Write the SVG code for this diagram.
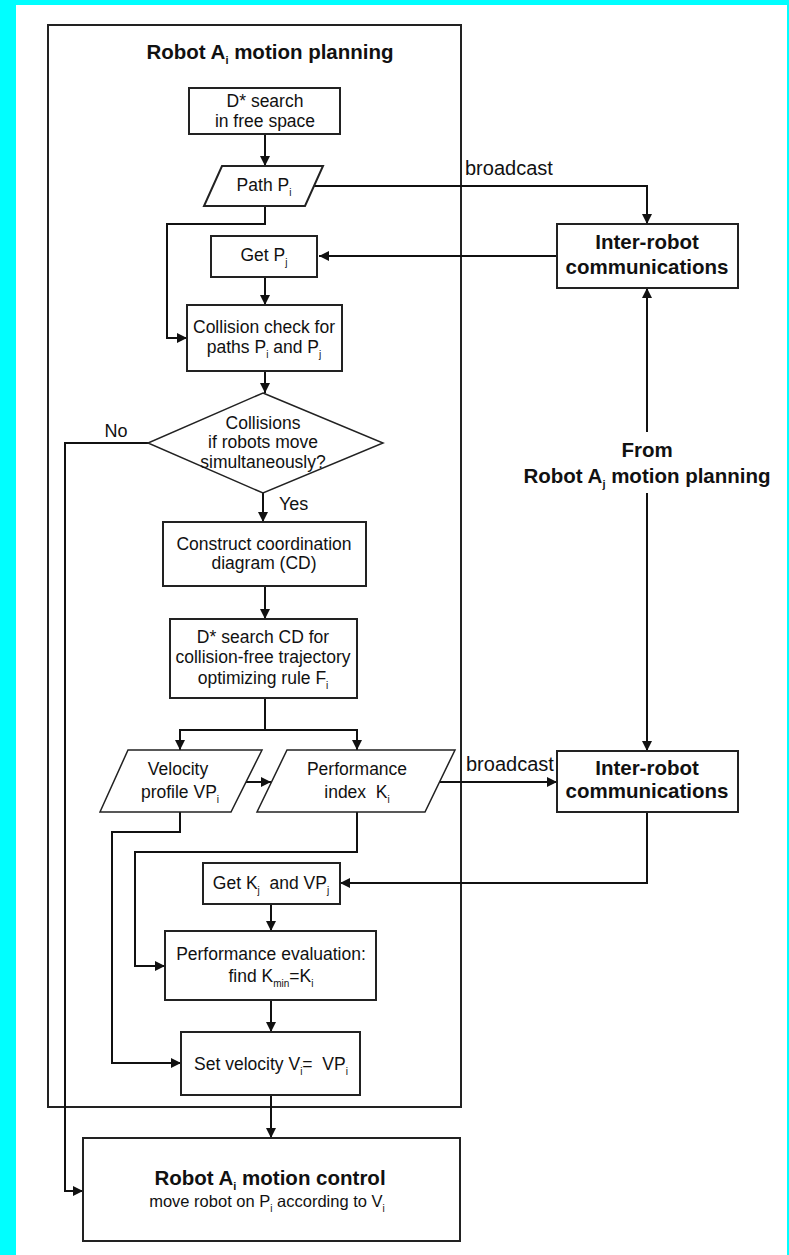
<svg xmlns="http://www.w3.org/2000/svg" width="789" height="1255" viewBox="0 0 789 1255">
<defs>
<marker id="arr" markerUnits="userSpaceOnUse" markerWidth="10" markerHeight="10" refX="10" refY="5" orient="auto">
<path d="M0,0 L10,5 L0,10 z" fill="#111"/>
</marker>
<style>
.box{fill:#fff;stroke:#222;stroke-width:2}
.frame{fill:none;stroke:#222;stroke-width:2}
.con{fill:none;stroke:#111;stroke-width:2}
.ca{fill:none;stroke:#111;stroke-width:2;marker-end:url(#arr)}
text{font-family:"Liberation Sans",Arial,sans-serif;fill:#111;white-space:pre}
.t{font-size:17.5px;text-anchor:middle}
.b{font-size:20.5px;font-weight:bold;text-anchor:middle}
.l{font-size:20px}
.s{font-size:10px}
.sb{font-size:11px}
</style>
</defs>
<rect x="0" y="0" width="789" height="1255" fill="#00ffff"/>
<rect x="16" y="5" width="771" height="1250" fill="#fff"/>

<g id="frame-planning">
<rect class="frame" x="48" y="25" width="413" height="1082"/>
<text class="b" x="270" y="59">Robot A<tspan class="sb" dy="5">i</tspan><tspan dy="-5"> motion planning</tspan></text>
</g>

<g id="connectors">
<path class="ca" d="M265,134 V166"/>
<path class="ca" d="M314,186 H647 V224"/>
<path class="ca" d="M557,256 H319"/>
<path class="ca" d="M265,206 V224 H167 V338 H187"/>
<path class="ca" d="M265,277 V305"/>
<path class="ca" d="M265,371 V393"/>
<path class="ca" d="M148,443 H65 V1191 H83"/>
<path class="ca" d="M263,493 V522"/>
<path class="ca" d="M265,586 V619"/>
<path class="ca" d="M265,698 V730 H180 V750"/>
<path class="ca" d="M265,730 H357 V750"/>
<path class="ca" d="M246,782 H271"/>
<path class="ca" d="M440,782 H557"/>
<path class="ca" d="M647,432 V288"/>
<path class="ca" d="M647,493 V751"/>
<path class="ca" d="M647,812 V883 H340"/>
<path class="ca" d="M180,812 V832 H112 V1063 H181"/>
<path class="ca" d="M357,812 V852 H135 V966 H165"/>
<path class="ca" d="M271,904 V931"/>
<path class="ca" d="M271,1000 V1032"/>
<path class="ca" d="M271,1095 V1138"/>
<text class="l" x="465" y="175">broadcast</text>
<text class="l" x="466" y="771">broadcast</text>
<text class="t" x="116" y="437" style="font-size:18px">No</text>
<text x="279" y="510" style="font-size:18px">Yes</text>
</g>

<g id="dstar-free">
<rect class="box" x="189" y="88" width="151" height="46"/>
<text class="t" x="265" y="107">D* search</text>
<text class="t" x="265" y="127">in free space</text>
</g>

<g id="path-pi">
<polygon class="box" points="222,166 323,166 305,206 204,206"/>
<text class="t" x="264" y="191">Path P<tspan class="s" dy="5">i</tspan></text>
</g>

<g id="get-pj">
<rect class="box" x="211" y="236" width="106" height="41"/>
<text class="t" x="264" y="261">Get P<tspan class="s" dy="5">j</tspan></text>
</g>

<g id="collision-check">
<rect class="box" x="187" y="305" width="155" height="66"/>
<text class="t" x="264" y="333">Collision check for</text>
<text class="t" x="264" y="353">paths P<tspan class="s" dy="5">i</tspan><tspan dy="-5"> and P</tspan><tspan class="s" dy="5">j</tspan></text>
</g>

<g id="decision">
<polygon class="box" style="stroke-width:1.5" points="263,393 383,443 263,493 148,443"/>
<text class="t" x="263" y="429">Collisions</text>
<text class="t" x="263" y="448">if robots move</text>
<text class="t" x="263" y="468">simultaneously?</text>
</g>

<g id="construct-cd">
<rect class="box" x="163" y="522" width="203" height="64"/>
<text class="t" x="264" y="550">Construct coordination</text>
<text class="t" x="264" y="569">diagram (CD)</text>
</g>

<g id="dstar-cd">
<rect class="box" x="170" y="619" width="187" height="79"/>
<text class="t" x="263" y="643">D* search CD for</text>
<text class="t" x="263" y="663">collision-free trajectory</text>
<text class="t" x="263" y="684">optimizing rule F<tspan class="s" dy="5">i</tspan></text>
</g>

<g id="velocity-profile">
<polygon class="box" style="stroke-width:1.5" points="128,750 262,750 231,812 100,812"/>
<text class="t" x="178" y="775">Velocity</text>
<text class="t" x="180" y="798">profile VP<tspan class="s" dy="5">i</tspan></text>
</g>

<g id="performance-index">
<polygon class="box" style="stroke-width:1.5" points="287,750 455,750 425,812 257,812"/>
<text class="t" x="357" y="775">Performance</text>
<text class="t" x="357" y="798">index  K<tspan class="s" dy="5">i</tspan></text>
</g>

<g id="inter-robot-1">
<rect class="box" x="557" y="224" width="181" height="64"/>
<text class="b" x="647" y="249">Inter-robot</text>
<text class="b" x="647" y="274">communications</text>
</g>

<g id="from-aj">
<text class="b" x="647" y="457">From</text>
<text class="b" x="647" y="483">Robot A<tspan class="sb" dy="5">j</tspan><tspan dy="-5"> motion planning</tspan></text>
</g>

<g id="inter-robot-2">
<rect class="box" x="557" y="751" width="181" height="61"/>
<text class="b" x="647" y="775">Inter-robot</text>
<text class="b" x="647" y="798">communications</text>
</g>

<g id="get-kj">
<rect class="box" x="203" y="863" width="137" height="41"/>
<text class="t" x="271" y="889">Get K<tspan class="s" dy="5">j</tspan><tspan dy="-5">  and VP</tspan><tspan class="s" dy="5">j</tspan></text>
</g>

<g id="performance-eval">
<rect class="box" x="165" y="931" width="211" height="69"/>
<text class="t" x="271" y="960">Performance evaluation:</text>
<text class="t" x="271" y="982">find K<tspan class="s" dy="5">min</tspan><tspan dy="-5">=K</tspan><tspan class="s" dy="5">i</tspan></text>
</g>

<g id="set-velocity">
<rect class="box" x="181" y="1032" width="179" height="63"/>
<text class="t" x="271" y="1070">Set velocity V<tspan class="s" dy="5">i</tspan><tspan dy="-5">=  VP</tspan><tspan class="s" dy="5">i</tspan></text>
</g>

<g id="motion-control">
<rect class="box" x="83" y="1138" width="377" height="103"/>
<text class="b" x="270" y="1185">Robot A<tspan class="sb" dy="5">i</tspan><tspan dy="-5"> motion control</tspan></text>
<text class="t" x="267" y="1207" style="font-size:16.5px">move robot on P<tspan class="s" dy="5">i</tspan><tspan dy="-5"> according to V</tspan><tspan class="s" dy="5">i</tspan></text>
</g>
</svg>
